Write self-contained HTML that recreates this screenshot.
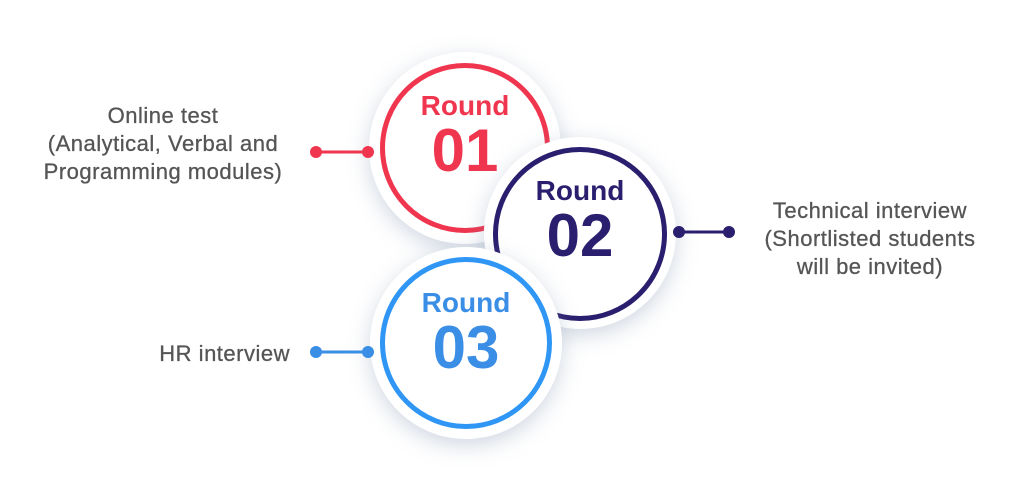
<!DOCTYPE html>
<html><head><style>
body{margin:0;width:1024px;height:479px;background:#fff;overflow:hidden;position:relative;font-family:"Liberation Sans",sans-serif}
.t{position:absolute;color:#555;font-size:22px;line-height:28px;text-align:center;letter-spacing:0.5px;-webkit-text-stroke:0.3px #555}
.c{position:absolute;border-radius:50%;background:#fff;box-shadow:0 6px 22px rgba(120,140,170,0.35)}
.r{position:absolute;border-radius:50%;border:5px solid;box-sizing:border-box}
.lab{position:absolute;width:100%;text-align:center;font-weight:bold}
</style></head><body>
<div class="t" style="left:5px;top:102px;width:316px">Online test<br>(Analytical, Verbal and<br>Programming modules)</div>
<div class="t" style="left:725px;top:197px;width:290px">Technical interview<br>(Shortlisted students<br>will be invited)</div>
<div class="t" style="left:90px;top:340px;width:200px;text-align:right">HR interview</div>
<div class="c" style="left:369px;top:52px;width:192px;height:192px">
 <div class="r" style="left:11px;top:11px;width:170px;height:170px;border-color:#f0364f"></div>
 <div class="lab" style="top:38px;font-size:28px;color:#f0364f">Round</div>
 <div class="lab" style="top:64px;font-size:60px;color:#f0364f">01</div>
</div>
<div class="c" style="left:484px;top:137px;width:192px;height:192px">
 <div class="r" style="left:9px;top:10px;width:174px;height:174px;border-color:#2a1e6e"></div>
 <div class="lab" style="top:38px;font-size:28px;color:#2a1e6e">Round</div>
 <div class="lab" style="top:64px;font-size:60px;color:#2a1e6e">02</div>
</div>
<div class="c" style="left:370px;top:247px;width:192px;height:192px">
 <div class="r" style="left:10px;top:10px;width:172px;height:172px;border-color:#2f96f5"></div>
 <div class="lab" style="top:40px;font-size:28px;color:#3a8ee6">Round</div>
 <div class="lab" style="top:66px;font-size:60px;color:#3a8ee6">03</div>
</div>
<svg width="1024" height="479" style="position:absolute;left:0;top:0">
<g stroke-width="3"><line x1="316" y1="152" x2="368" y2="152" stroke="#f0364f"/><circle cx="316" cy="152" r="6" fill="#f0364f"/><circle cx="368" cy="152" r="6" fill="#f0364f"/>
<line x1="679" y1="232" x2="729" y2="232" stroke="#2a1e6e"/><circle cx="679" cy="232" r="6" fill="#2a1e6e"/><circle cx="729" cy="232" r="6" fill="#2a1e6e"/>
<line x1="316" y1="352" x2="368" y2="352" stroke="#3a8ee6"/><circle cx="316" cy="352" r="6" fill="#3a8ee6"/><circle cx="368" cy="352" r="6" fill="#3a8ee6"/></g>
</svg>
</body></html>
